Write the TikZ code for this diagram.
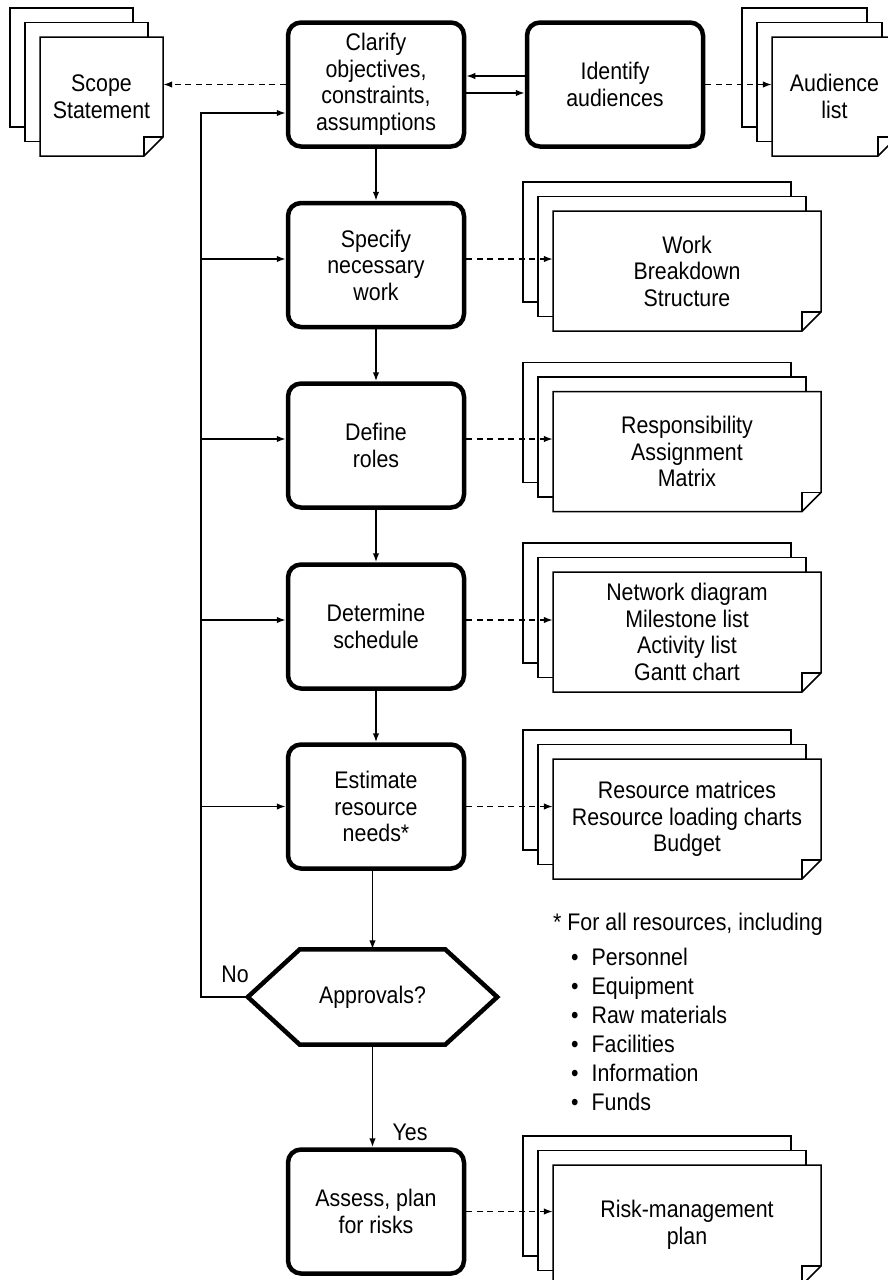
\documentclass[tikz,border=0pt]{standalone}
\usepackage{fontspec}
\setmainfont{Liberation Sans}[FakeStretch=0.89]
\usetikzlibrary{arrows.meta,calc}
\newcommand\boxfont{\fontsize{24}{26.5}\selectfont}
\tikzset{
 proc/.style={draw, line width=4.5pt, rounded corners=13pt, minimum width=176pt, minimum height=124pt, inner sep=0pt, align=center, font=\boxfont, fill=white},
 ln/.style={line width=1.5pt},
 arr/.style={ln, -{Latex[length=9pt,width=6.5pt]}},
 darr/.style={arr, dash pattern=on 6pt off 4.5pt},
 page/.style={ln, fill=white, line join=miter},
 doctext/.style={draw=none, align=center, font=\boxfont, inner sep=0pt},
 lbl/.style={font=\boxfont, inner sep=0pt},
}
\newcommand\docstack[6]{%
  \draw[page] ({#2-#4/2-30},{#3-#5/2-29}) rectangle ++(#4,#5);
  \draw[page] ({#2-#4/2-15},{#3-#5/2-14.5}) rectangle ++(#4,#5);
  \draw[page] ({#2-#4/2},{#3-#5/2}) -- ++(#4,0) -- ++(0,{#5-19}) -- ++(-19,19) -- ({#2-#4/2},{#3+#5/2}) -- cycle;
  \draw[ln] ({#2+#4/2-19},{#3+#5/2}) -- ++(0,-19) -- ++(19,0);
  \node[doctext, minimum width=#4pt, minimum height=#5pt] (#1) at (#2,#3) {#6};
}
\begin{document}
\begin{tikzpicture}[x=1pt,y=-1pt]
\useasboundingbox[fill=white] (0,0) rectangle (888,1280);

% document stacks
\docstack{scope}{101.5}{96.5}{123}{119}{Scope\\Statement}
\docstack{aud}{834.5}{96.5}{125}{119}{Audience\\list}
\docstack{wbs}{687}{271}{268}{120}{Work\\Breakdown\\Structure}
\docstack{ram}{687}{451.5}{268}{120}{Responsibility\\Assignment\\Matrix}
\docstack{net}{687}{632}{268}{120}{Network diagram\\Milestone list\\Activity list\\Gantt chart}
\docstack{res}{687}{819}{268}{120}{Resource matrices\\Resource loading charts\\Budget}
\docstack{risk}{687}{1225}{268}{120}{Risk-management\\plan}

% process boxes
\node[proc] (clar) at (376,84.5) {Clarify\\objectives,\\constraints,\\assumptions};
\node[proc] (idf) at (615,84.5) {Identify\\audiences};
\node[proc] (spec) at (376,265) {Specify\\necessary\\work};
\node[proc] (def) at (376,445.5) {Define\\roles};
\node[proc] (det) at (376,626.5) {Determine\\schedule};
\node[proc] (est) at (376,806.5) {Estimate\\resource\\needs*};
\node[proc] (ass) at (376,1211.5) {Assess, plan\\for risks};

% decision hexagon
\node[lbl, minimum width=249pt, minimum height=95pt] (appr) at (372.5,997) {Approvals?};
\draw[line width=4.5pt, line join=miter] (appr.west) -- ([xshift=52pt]appr.north west) -- ([xshift=-52pt]appr.north east) -- (appr.east) -- ([xshift=-52pt]appr.south east) -- ([xshift=52pt]appr.south west) -- cycle;

% main flow
\draw[arr] (clar) -- (spec);
\draw[arr] (spec) -- (def);
\draw[arr] (def) -- (det);
\draw[arr] (det) -- (est);
\draw[arr] (est.south -| appr.north) -- (appr.north);
\draw[arr] (appr.south) -- (appr.south |- ass.north);

% clarify <-> identify
\draw[arr] ([yshift=8.5pt]idf.west) -- ([yshift=8.5pt]clar.east);
\draw[arr] ([yshift=-8.5pt]clar.east) -- ([yshift=-8.5pt]idf.west);

% feedback loop
\coordinate (fb) at (201,997);
\coordinate (clarin) at ([yshift=-28.5pt]clar.west);
\coordinate (specin) at ([yshift=6pt]spec.west);
\coordinate (defin) at ([yshift=6.5pt]def.west);
\coordinate (detin) at ([yshift=6.5pt]det.west);
\coordinate (estin) at (est.west);
\draw[arr] (appr.west) -- (fb) -- (fb |- clarin) -- (clarin);
\draw[arr] (specin -| fb) -- (specin);
\draw[arr] (defin -| fb) -- (defin);
\draw[arr] (detin -| fb) -- (detin);
\draw[arr] (estin -| fb) -- (estin);

% outputs
\draw[darr] (clar.west) -- (clar.west -| scope.east);
\draw[darr] (idf.east) -- (idf.east -| aud.west);
\coordinate (specout) at ([yshift=6pt]spec.east);
\coordinate (defout) at ([yshift=6.5pt]def.east);
\coordinate (detout) at ([yshift=6.5pt]det.east);
\draw[darr] (specout) -- (specout -| wbs.west);
\draw[darr] (defout) -- (defout -| ram.west);
\draw[darr] (detout) -- (detout -| net.west);
\draw[darr] (est.east) -- (est.east -| res.west);
\draw[darr] (ass.east) -- (ass.east -| risk.west);

% labels
\node[lbl] (no) at (235,974) {No};
\node[lbl] (yes) at (410,1132) {Yes};

% footnote
\node[lbl, anchor=base west] (fn) at (553,930) {* For all resources, including};
\foreach \t [count=\i] in {Personnel,Equipment,Raw materials,Facilities,Information,Funds}{
  \node[lbl, anchor=base west] (it\i) at (571,{965+29*(\i-1)}) {•\hspace{13pt}\t};
}
\end{tikzpicture}
\end{document}
